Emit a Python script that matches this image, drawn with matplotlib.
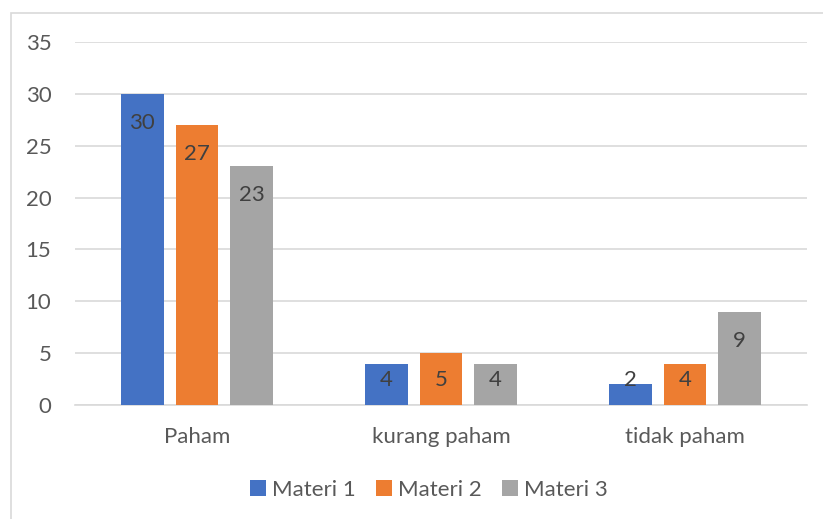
import numpy as np
import matplotlib.pyplot as plt
from matplotlib.patches import Rectangle

categories = ['Paham', 'kurang paham', 'tidak paham']
series_names = ['Materi 1', 'Materi 2', 'Materi 3']
materi_1 = [30, 4, 2]
materi_2 = [27, 5, 4]
materi_3 = [23, 4, 9]
yticks = [0, 5, 10, 15, 20, 25, 30, 35]

colors = ['#4472C4', '#ED7D31', '#A5A5A5']
text_color = '#595959'

plt.rcParams['font.family'] = ['Lato', 'DejaVu Sans']

W, H = 823, 519
fig = plt.figure(figsize=(W / 100, H / 100), dpi=100)

# chart area frame (only left/top visible in the reference)
fig.patches.append(Rectangle((11 / W, 1 - 600 / H), 900 / W, (600 - 13) / H,
                             transform=fig.transFigure, fill=False,
                             edgecolor='#D9D9D9', linewidth=1.2))

ax = fig.add_axes([75 / W, 1 - 405 / H, (807 - 75) / W, (405 - 42) / H])

x = np.arange(len(categories))
width = 0.176
step = 0.224
data = [materi_1, materi_2, materi_3]

for i, (vals, name, c) in enumerate(zip(data, series_names, colors)):
    pos = x + (i - 1) * step
    ax.bar(pos, vals, width=width, color=c, label=name, zorder=3)
    for px, v in zip(pos, vals):
        ax.text(px, max(v - 2.8, 2.4), str(v), ha='center', va='center',
                fontsize=16, color='#404040', zorder=4)

ax.set_xlim(-0.5, 2.5)
ax.set_ylim(0, 35)
ax.set_yticks(yticks)
ax.set_xticks(x)
ax.set_xticklabels(categories)
ax.tick_params(axis='both', length=0, labelsize=16, colors=text_color)
ax.tick_params(axis='x', pad=16)
ax.tick_params(axis='y', pad=17)
ax.grid(axis='y', color='#D9D9D9', linewidth=1.2, zorder=0)
for s in ['top', 'right', 'left']:
    ax.spines[s].set_visible(False)
ax.spines['bottom'].set_color('#D9D9D9')
ax.spines['bottom'].set_linewidth(1.2)

leg = fig.legend(loc='center', bbox_to_anchor=(429 / W, 1 - 490 / H), ncol=3,
                 frameon=False, fontsize=16, handlelength=0.7, handleheight=0.7,
                 handletextpad=0.3, columnspacing=0.9)
for t in leg.get_texts():
    t.set_color(text_color)

fig.savefig('out.png', dpi=100)
